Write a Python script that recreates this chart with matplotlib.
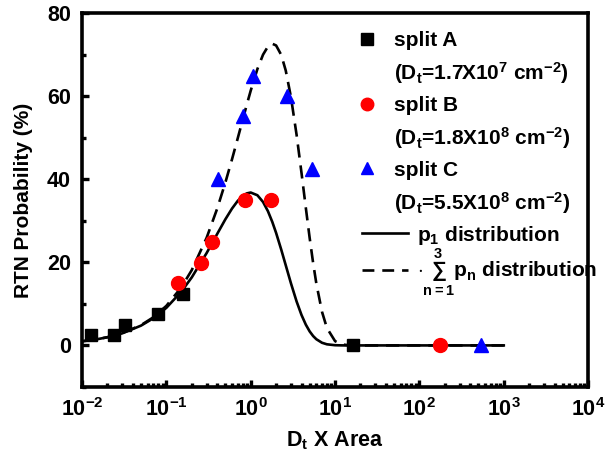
import math
import matplotlib
matplotlib.use('Agg')
import matplotlib.pyplot as plt
from matplotlib.lines import Line2D
from matplotlib.ticker import FuncFormatter, LogLocator, MultipleLocator

plt.rcParams['font.family'] = ['Liberation Sans', 'DejaVu Sans']
plt.rcParams['font.weight'] = 'bold'
plt.rcParams['mathtext.fontset'] = 'custom'
plt.rcParams['mathtext.rm'] = 'Liberation Sans:bold'
plt.rcParams['mathtext.it'] = 'Liberation Sans:bold'
plt.rcParams['mathtext.bf'] = 'Liberation Sans:bold'

# measured points
a_x = [0.0127, 0.024, 0.032, 0.079, 0.158, 16.5]
a_y = [2.6, 2.5, 4.9, 7.5, 12.3, 0]
b_x = [0.139, 0.257, 0.345, 0.86, 1.75, 176]
b_y = [15, 19.9, 24.9, 34.9, 35, 0]
c_x = [0.414, 0.81, 1.06, 2.68, 5.4, 541]
c_y = [40, 55.1, 64.9, 60, 42.5, 0]

# curves
curve_x = [0.01, 0.015, 0.02, 0.03, 0.05, 0.07, 0.1, 0.15, 0.2, 0.3, 0.4, 0.5,
           0.6, 0.7, 0.8, 0.9, 1.0, 1.2, 1.4, 1.6, 1.8, 2.0, 2.3, 2.6, 3.0,
           3.5, 4.0, 4.5, 5.0, 5.5, 6.0, 7.0, 8.0, 10, 12, 15, 20, 100, 1000]
p1_y = [0.99, 1.48, 1.96, 2.91, 4.76, 6.53, 9.05, 12.91, 16.37, 22.22, 26.81, 30.33,
        32.93, 34.76, 35.95, 36.59, 36.79, 36.14, 34.52, 32.30, 29.75, 27.07, 23.06, 19.31, 14.94,
        10.57, 7.33, 5.00, 3.37, 2.25, 1.49, 0.64, 0.27, 0.05, 0.01, 0, 0, 0, 0]
sum_y = [0.99, 1.49, 1.98, 2.96, 4.88, 6.76, 9.52, 13.93, 18.12, 25.89, 32.89, 39.17,
         44.78, 49.77, 54.16, 58.00, 61.31, 66.50, 69.97, 71.93, 72.60, 72.18, 69.91, 66.17, 59.74,
         50.64, 41.52, 33.12, 25.83, 19.76, 14.87, 8.09, 4.20, 1.03, 0.23, 0.02, 0, 0, 0]

x_ticks = [1e-2, 1e-1, 1e0, 1e1, 1e2, 1e3, 1e4]

fig = plt.figure(figsize=(6.12, 4.55), dpi=100)
ax = fig.add_axes([0.134, 0.1495, 0.827, 0.822])

ax.plot(curve_x, p1_y, '-', color='black', lw=1.9)
ax.plot(curve_x, sum_y, '--', color='black', lw=1.9, dashes=(5, 3))
ax.plot(a_x, a_y, 's', color='black', ms=8.5, ls='none')
ax.plot(b_x, b_y, 'o', color='red', ms=10, ls='none')
ax.plot(c_x, c_y, '^', color='blue', ms=10.5, ls='none')

ax.set_xscale('log')
ax.set_xlim(1e-2, 1e4)
ax.set_ylim(-10, 80)
ax.set_xticks(x_ticks)
ax.xaxis.set_minor_locator(LogLocator(base=10, subs=range(2, 10), numticks=20))
ax.xaxis.set_major_formatter(FuncFormatter(lambda v, p: '10$^{%d}$' % round(math.log10(v))))
ax.yaxis.set_major_locator(MultipleLocator(20))
ax.yaxis.set_minor_locator(MultipleLocator(10))

for s in ax.spines.values():
    s.set_linewidth(2.6)
ax.tick_params(which='both', direction='in', top=False, right=False, labelsize=15.5)
ax.tick_params(axis='x', pad=8)
ax.tick_params(axis='y', pad=8)
ax.tick_params(which='major', length=5, width=2.4)
ax.tick_params(which='minor', length=3, width=2.4)
for lbl in ax.get_xticklabels() + ax.get_yticklabels():
    lbl.set_fontweight('bold')

ax.set_xlabel('D$_t$ X Area', fontsize=15.5, fontweight='bold', labelpad=6)
ax.set_ylabel('RTN Probability (%)', fontsize=15, fontweight='bold', labelpad=10)

blank = Line2D([], [], ls='none', marker='none')
h1 = [Line2D([], [], marker='s', color='black', ls='none', ms=8),
      blank,
      Line2D([], [], marker='o', color='red', ls='none', ms=9),
      blank,
      Line2D([], [], marker='^', color='blue', ls='none', ms=9),
      blank]
l1 = ['split A', '(D$_t$=1.7X10$^7$ cm$^{-2}$)',
      'split B', '(D$_t$=1.8X10$^8$ cm$^{-2}$)',
      'split C', '(D$_t$=5.5X10$^8$ cm$^{-2}$)']
leg1 = ax.legend(h1, l1, loc='upper left', bbox_to_anchor=(0.543, 0.952), frameon=False,
                 prop={'size': 15, 'weight': 'bold'}, handlelength=1.0, handletextpad=0.8,
                 labelspacing=0.48, borderpad=0, borderaxespad=0)
ax.add_artist(leg1)

h2 = [Line2D([], [], color='black', lw=1.9),
      Line2D([], [], color='black', lw=1.9, ls='--', dashes=(4.5, 3))]
l2 = ['p$_1$ distribution', r'$\cdot\sum_{n=1}^{3}$p$_n$ distribution']
ax.legend(h2, l2, loc='upper left', bbox_to_anchor=(0.553, 0.437), frameon=False,
          prop={'size': 15, 'weight': 'bold'}, handlelength=2.2, handletextpad=0.45,
          labelspacing=0.0, borderpad=0, borderaxespad=0)

fig.savefig('out.png', dpi=100)
